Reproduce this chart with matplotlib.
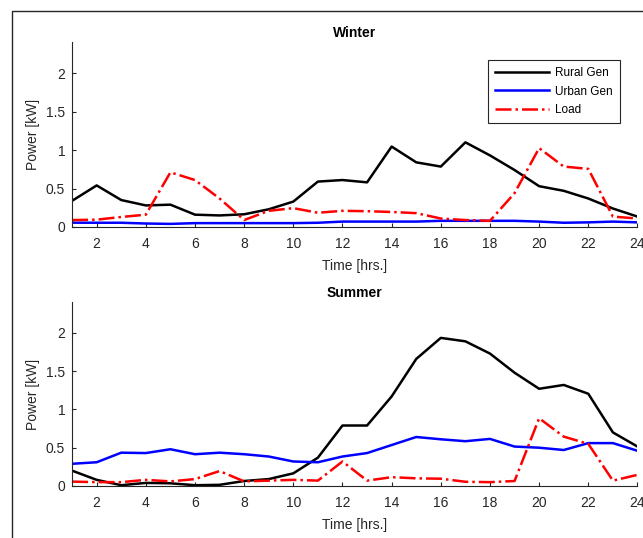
import numpy as np
import matplotlib
matplotlib.use("Agg")
import matplotlib.pyplot as plt
from matplotlib.patches import Rectangle
from matplotlib.ticker import FormatStrFormatter

plt.rcParams['font.family'] = ['Liberation Sans', 'DejaVu Sans']

# --- data ------------------------------------------------------------------
hours = list(range(1, 25))

winter_rural = [0.34, 0.54, 0.35, 0.28, 0.29, 0.16, 0.15, 0.165, 0.23, 0.33,
                0.59, 0.61, 0.58, 1.045, 0.84, 0.785, 1.10, 0.93, 0.74, 0.53,
                0.47, 0.37, 0.24, 0.135]
winter_urban = [0.056, 0.055, 0.055, 0.045, 0.04, 0.05, 0.05, 0.05, 0.05, 0.05,
                0.055, 0.07, 0.07, 0.07, 0.07, 0.08, 0.08, 0.08, 0.08, 0.07,
                0.055, 0.06, 0.07, 0.06]
winter_load = [0.09, 0.095, 0.13, 0.16, 0.71, 0.61, 0.37, 0.09, 0.21, 0.245,
               0.185, 0.21, 0.205, 0.195, 0.18, 0.11, 0.09, 0.08, 0.44, 1.025,
               0.785, 0.755, 0.135, 0.11]

summer_rural = [0.2, 0.08, 0.01, 0.04, 0.035, 0.01, 0.015, 0.065, 0.09, 0.165,
                0.37, 0.79, 0.79, 1.17, 1.66, 1.935, 1.89, 1.73, 1.48, 1.27,
                1.32, 1.205, 0.70, 0.515]
summer_urban = [0.29, 0.31, 0.435, 0.43, 0.48, 0.415, 0.435, 0.415, 0.385, 0.32,
                0.31, 0.385, 0.43, 0.535, 0.64, 0.61, 0.585, 0.615, 0.515, 0.50,
                0.47, 0.56, 0.56, 0.46]
summer_load = [0.057, 0.05, 0.05, 0.08, 0.06, 0.09, 0.195, 0.06, 0.07, 0.08,
               0.07, 0.32, 0.07, 0.115, 0.10, 0.095, 0.055, 0.05, 0.065, 0.885,
               0.645, 0.55, 0.07, 0.145]

series_labels = ["Rural Gen", "Urban Gen", "Load"]
x_ticks = list(range(2, 25, 2))
y_ticks = [0, 0.5, 1, 1.5, 2]

AXIS_GREY = "#262626"

fig = plt.figure(figsize=(6.43, 5.38), dpi=100)

# MATLAB figure frame, partly cropped off on the right/bottom
fig.patches.append(Rectangle((12 / 643, -0.1), 1.2, 1 - 11 / 538 + 0.1,
                             transform=fig.transFigure, fill=False,
                             edgecolor=AXIS_GREY, linewidth=1.0))

ax_w = fig.add_axes([0.1121, 0.5781, 0.8793, 0.3433])
ax_s = fig.add_axes([0.1121, 0.0967, 0.8793, 0.3414])

panels = [(ax_w, "Winter", winter_rural, winter_urban, winter_load),
          (ax_s, "Summer", summer_rural, summer_urban, summer_load)]

for ax, title, rural, urban, load in panels:
    ax.plot(hours, rural, color="black", linewidth=1.8, label=series_labels[0])
    ax.plot(hours, urban, color="#0000FF", linewidth=1.8, label=series_labels[1])
    ax.plot(hours, load, color="#FF0000", linewidth=1.8, linestyle="-.",
            label=series_labels[2])
    ax.set_xlim(1, 24)
    ax.set_ylim(0, 2.4)
    ax.set_xticks(x_ticks)
    ax.set_yticks(y_ticks)
    ax.yaxis.set_major_formatter(FormatStrFormatter("%g"))
    ax.set_title(title, fontsize=10, fontweight="bold", pad=4)
    ax.set_xlabel("Time [hrs.]", fontsize=10, color=AXIS_GREY, labelpad=6)
    ax.set_ylabel("Power [kW]", fontsize=10, color=AXIS_GREY, labelpad=4)
    for side in ("top", "right"):
        ax.spines[side].set_visible(False)
    for side in ("left", "bottom"):
        ax.spines[side].set_color(AXIS_GREY)
        ax.spines[side].set_linewidth(0.8)
    ax.tick_params(direction="in", length=3, width=0.8, colors=AXIS_GREY,
                   labelsize=10)
    ax.tick_params(axis="x", pad=7)
    ax.tick_params(axis="y", pad=5)

leg = ax_w.legend(loc="upper right", bbox_to_anchor=(0.969, 0.904),
                  fontsize=8.5, frameon=True, fancybox=False, framealpha=1,
                  edgecolor=AXIS_GREY, handlelength=4.6, handletextpad=0.5,
                  labelspacing=0.55, borderpad=0.6, borderaxespad=0)
leg.get_frame().set_linewidth(0.8)

fig.savefig("out.png", dpi=100)
